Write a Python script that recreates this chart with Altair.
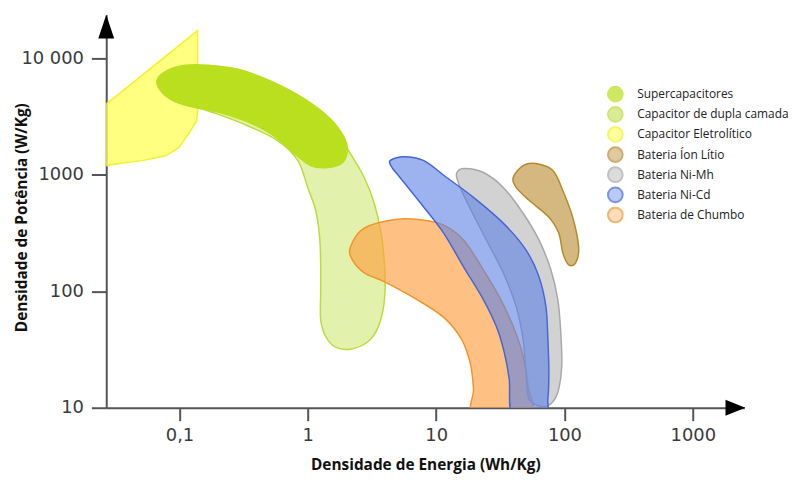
import altair as alt
import pandas as pd

# ---------------- data ----------------
series_names = [
    "Supercapacitores",
    "Capacitor de dupla camada",
    "Capacitor Eletrolítico",
    "Bateria Íon Lítio",
    "Bateria Ni-Mh",
    "Bateria Ni-Cd",
    "Bateria de Chumbo",
]

x_ticks = [0.1, 1, 10, 100, 1000]
y_ticks = [10, 100, 1000, 10000]

# outlines: energy density (Wh/kg), power density (W/kg)
eletro_x = [0.0269, 0.1383, 0.1383, 0.1358, 0.1178, 0.0986, 0.0782, 0.0510, 0.0339, 0.0269]
eletro_y = [4055, 17330, 3534, 2905, 2251, 1710, 1461, 1325, 1250, 1201]

super_x = [0.0666, 0.0782, 0.1117, 0.1682, 0.2870, 0.5166, 0.9463, 1.503, 1.929, 2.035,
           1.862, 1.425, 1.053, 0.7375, 0.5166, 0.3251, 0.2120, 0.1407, 0.0986, 0.0755]
super_y = [6368, 7750, 8718, 8718, 8058, 6368, 4473, 3021, 2081, 1612,
           1274, 1155, 1201, 1612, 2251, 2905, 3399, 3749, 4135, 4934]

dupla_x = [0.0902, 0.1682, 0.3428, 0.6993, 1.304, 1.765, 2.147, 2.754, 3.291, 3.728,
           3.933, 4.004, 3.864, 3.472, 2.906, 2.147, 1.643, 1.375, 1.259, 1.259,
           1.259, 1.236, 1.151, 0.998, 0.8363, 0.5855, 0.3137, 0.1682, 0.0986]
dupla_y = [6368, 7452, 6368, 4473, 2905, 2081, 1520, 949, 570, 316,
           186, 109.6, 69.8, 47.1, 36.5, 31.8, 33.1, 41.1, 57.4, 97.4,
           175.5, 292, 497, 780, 1325, 1962, 2739, 3534, 4301]

chumbo_x = [2.147, 2.754, 4.958, 8.023, 11.45, 16.35, 23.34, 31.03, 39.84, 47.60,
            52.04, 53.9, 19.89, 19.54, 18.52, 15.78, 11.45, 7.079, 3.933, 2.754, 2.225]
chumbo_y = [240, 349, 416, 408, 370, 276, 153, 90.0, 50.0, 27.8,
            15.4, 8.5, 8.5, 14.5, 23.7, 38.7, 59.7, 84.9, 120.9, 144.2, 186]

nimh_x = [14.43, 16.35, 23.34, 33.33, 47.60, 63.27, 78.38, 88.77, 93.63, 95.30,
          90.36, 81.21, 67.96, 52.97, 50.21, 47.60, 42.02, 33.33, 24.62, 18.20, 14.96]
nimh_y = [1027, 1132, 1047, 780, 468, 276, 153, 84.9, 44.4, 22.8,
          14.5, 11.25, 10.2, 11.9, 20.3, 38.7, 74.0, 144.2, 276, 527, 844]

nicd_x = [4.377, 5.616, 8.023, 12.08, 19.54, 33.33, 50.21, 63.27, 71.69, 74.29,
          75.62, 74.29, 70.4, 39.84, 37.10, 33.93, 29.42, 23.34, 16.35, 11.45, 8.023, 5.230, 4.536]
nicd_y = [1325, 1433, 1325, 949, 641, 385, 226, 133.4, 74.0, 38.7,
          20.3, 11.9, 8.5, 8.5, 17.7, 30.0, 50.0, 84.9, 162.3, 316, 527, 949, 1155]

litio_x = [39.84, 47.60, 59.98, 81.21, 97.03, 115.9, 129.0, 122.3, 108.0, 97.03, 90.36, 75.62, 52.97, 42.02]
litio_y = [949, 1201, 1250, 1089, 735, 433, 240, 175.5, 168.8, 214, 316, 433, 605, 780]

shapes = {
    "Capacitor Eletrolítico": (eletro_x, eletro_y),
    "Capacitor de dupla camada": (dupla_x, dupla_y),
    "Supercapacitores": (super_x, super_y),
    "Bateria de Chumbo": (chumbo_x, chumbo_y),
    "Bateria Ni-Mh": (nimh_x, nimh_y),
    "Bateria Ni-Cd": (nicd_x, nicd_y),
    "Bateria Íon Lítio": (litio_x, litio_y),
}

# ---------------- styles ----------------
styles = {
    "Supercapacitores": ("#BADF1E", "#BADF1E", 1.0),
    "Capacitor de dupla camada": ("#C5E35A", "#BCDB3C", 0.5),
    "Capacitor Eletrolítico": ("#FFFF55", "#F2F230", 0.75),
    "Bateria Íon Lítio": ("#C39A48", "#B68A2C", 0.7),
    "Bateria Ni-Mh": ("#B4B4B4", "#A8A8A8", 0.6),
    "Bateria Ni-Cd": ("#5A80E6", "#4567D6", 0.6),
    "Bateria de Chumbo": ("#FFA040", "#F0962C", 0.65),
}

rows = []
for name, (xs, ys) in shapes.items():
    for i, (xv, yv) in enumerate(zip(xs, ys)):
        rows.append({"serie": name, "i": i, "x": xv, "y": yv})
df = pd.DataFrame(rows)

W, H = 643, 396
xscale = alt.Scale(type="log", domain=[0.02686, 2523], nice=False)
yscale = alt.Scale(type="log", domain=[10, 23710], nice=False)

label_font = "DejaVu Sans"
title_font = "Open Sans"

xaxis = alt.Axis(
    values=x_ticks,
    labelExpr="datum.value < 1 ? '0,1' : toString(datum.value)",
    title="Densidade de Energia (Wh/Kg)",
    titleFont=title_font, titleFontSize=15.5, titleFontWeight="bold", titleColor="#111",
    titleY=57, titleBaseline="middle",
    labelFont=label_font, labelFontSize=18, labelColor="#3a3a3a", labelPadding=6,
    tickSize=13, tickWidth=2, tickColor="#555",
    domainColor="#555", domainWidth=2, grid=False, labelFlush=False,
)
yaxis = alt.Axis(
    values=y_ticks,
    labelExpr="datum.value >= 10000 ? '10 000' : toString(datum.value)",
    title="Densidade de Potência (W/Kg)",
    titleFont=title_font, titleFontSize=15.5, titleFontWeight="bold", titleColor="#111",
    titleX=-85, titleY=204, titleBaseline="middle", titleAngle=270,
    labelFont=label_font, labelFontSize=18, labelColor="#3a3a3a", labelPadding=8,
    tickSize=15, tickWidth=2, tickColor="#555",
    domainColor="#555", domainWidth=2, grid=False, labelFlush=False,
)

layers = []
for name in shapes:
    fill, stroke, op = styles[name]
    interp = "linear-closed" if name == "Capacitor Eletrolítico" else "cardinal-closed"
    layers.append(
        alt.Chart(df)
        .transform_filter(alt.datum.serie == name)
        .mark_line(interpolate=interp, fill=fill, stroke=stroke, fillOpacity=op,
                   strokeWidth=1.5, clip=True)
        .encode(
            x=alt.X("x:Q", scale=xscale, axis=xaxis),
            y=alt.Y("y:Q", scale=yscale, axis=yaxis),
            order="i:Q",
        )
    )

# axis arrows
up_arrow = alt.Chart(pd.DataFrame({"a": [0]})).mark_point(
    shape="M0,-1L0.667,1L-0.667,1Z", size=576, filled=True, color="#000", opacity=1
).encode(x=alt.value(0), y=alt.value(12))
right_arrow = alt.Chart(pd.DataFrame({"a": [0]})).mark_point(
    shape="M1,0L-1,-0.8L-1,0.8Z", size=400, filled=True, color="#000", opacity=1
).encode(x=alt.value(634), y=alt.value(396))

# legend
leg_df = pd.DataFrame({"serie": series_names, "k": list(range(len(series_names)))})
fills = [styles[n][0] for n in series_names]
strokes = [styles[n][1] for n in series_names]
ops = [styles[n][2] for n in series_names]

leg_base = alt.Chart(leg_df).transform_calculate(ly="80 + 20.3 * datum.k")
leg_dots = leg_base.mark_point(shape="circle", size=220, filled=True, strokeWidth=2).encode(
    x=alt.value(513),
    y=alt.Y("ly:Q", scale=None, axis=None),
    fill=alt.Fill("serie:N", scale=alt.Scale(domain=series_names, range=fills), legend=None),
    stroke=alt.Stroke("serie:N", scale=alt.Scale(domain=series_names, range=strokes), legend=None),
    fillOpacity=alt.FillOpacity("serie:N", scale=alt.Scale(domain=series_names, range=ops), legend=None),
)
leg_text = leg_base.mark_text(align="left", baseline="middle", font=title_font,
                              fontSize=12, color="#222").encode(
    x=alt.value(535),
    y=alt.Y("ly:Q", scale=None, axis=None),
    text="serie:N",
)

chart = (
    alt.layer(*layers, up_arrow, right_arrow, leg_dots, leg_text)
    .properties(
        width=W, height=H,
        autosize=alt.AutoSizeParams(type="none"),
        padding={"left": 99, "top": 5, "right": 44, "bottom": 68},
    )
    .configure_view(stroke=None)
)

chart.save("out.html", embed_options={"renderer": "svg", "actions": False})
